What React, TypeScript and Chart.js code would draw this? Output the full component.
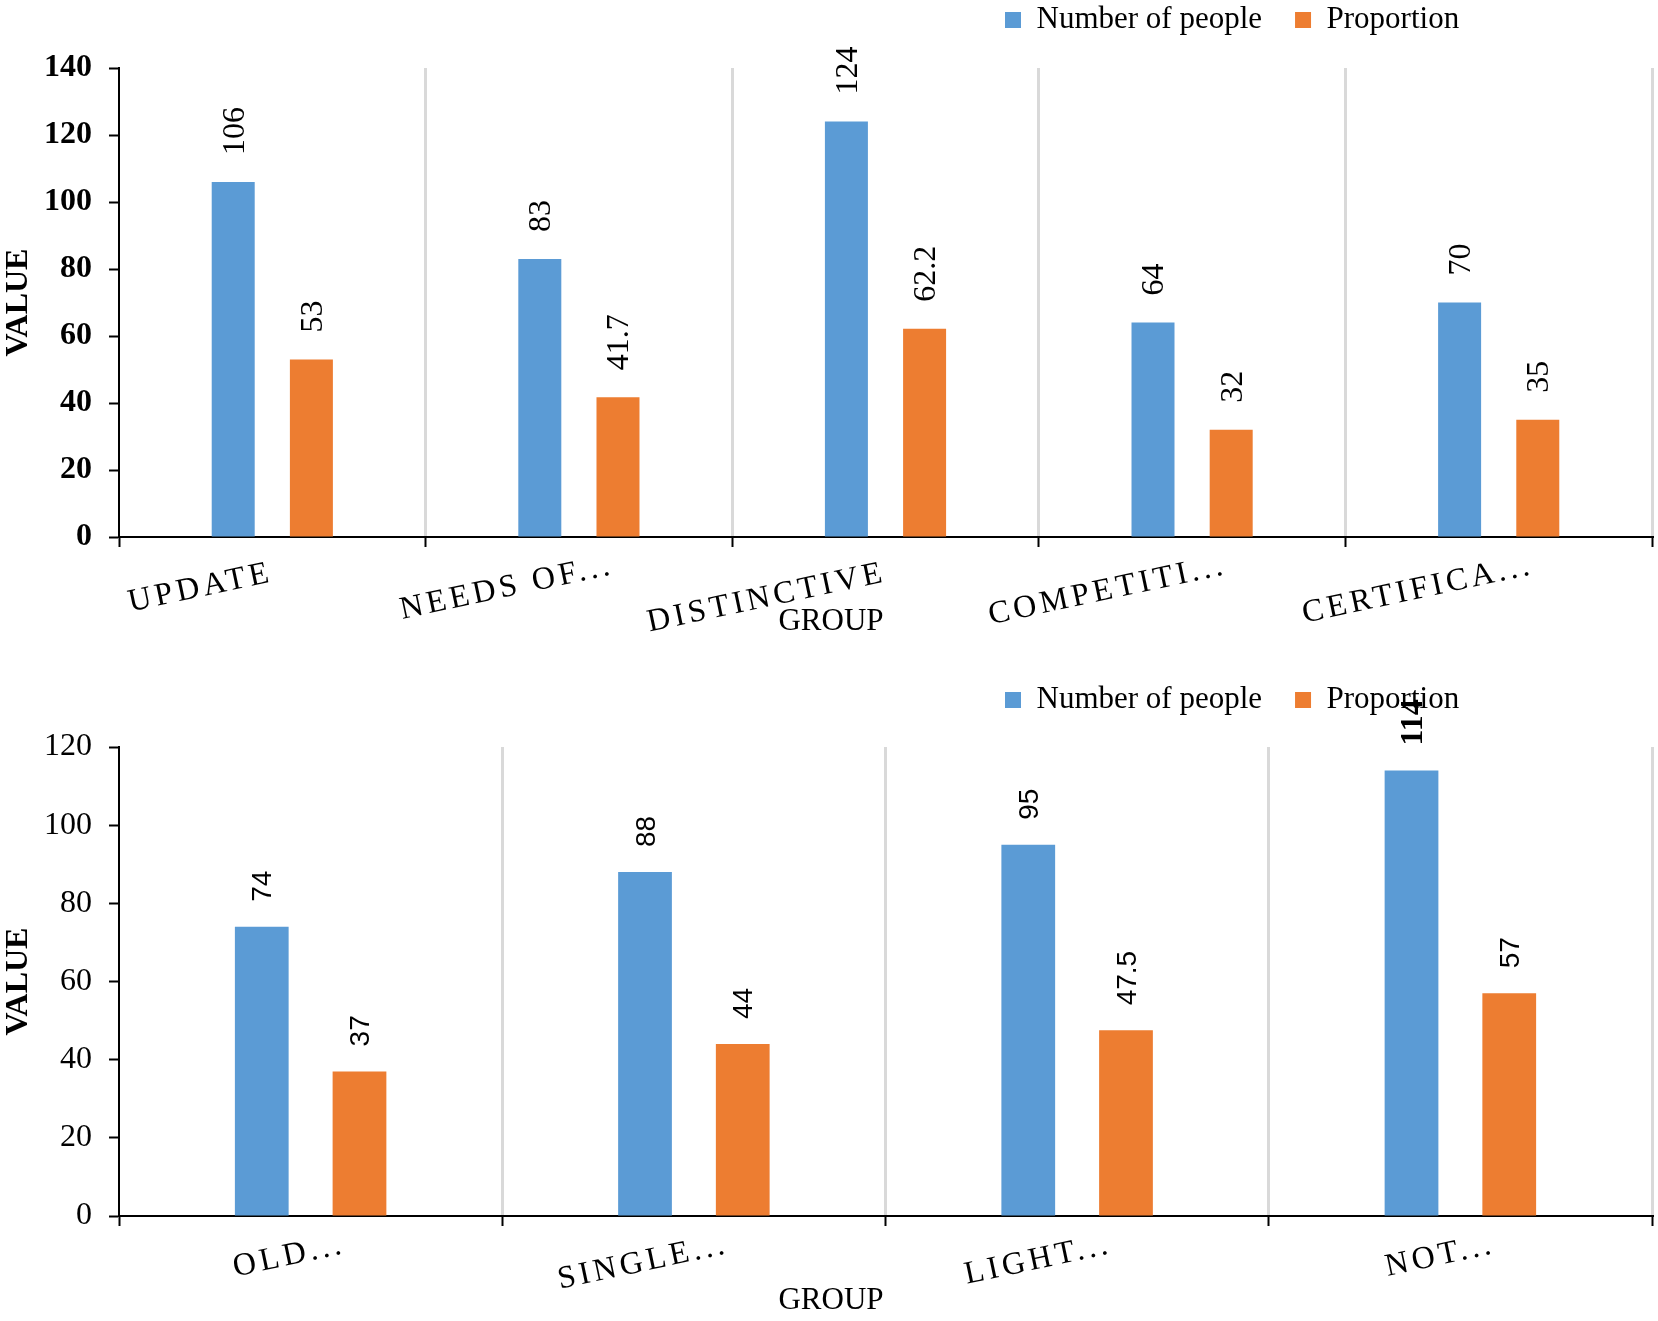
import React, { useEffect, useRef } from 'react';
import { Chart, registerables } from 'chart.js';

Chart.register(...registerables);

// ---- data ----
const seriesNames = ['Number of people', 'Proportion'];

const topCategories = ['UPDATE', 'NEEDS OF...', 'DISTINCTIVE', 'COMPETITI...', 'CERTIFICA...'];
const topPeople = [106, 83, 124, 64, 70];
const topProportion = [53, 41.7, 62.2, 32, 35];
const topMax = 140;

const bottomCategories = ['OLD...', 'SINGLE...', 'LIGHT...', 'NOT...'];
const bottomPeople = [74, 88, 95, 114];
const bottomProportion = [37, 44, 47.5, 57];
const bottomMax = 120;

const tickStep = 20;
const xTitle = 'GROUP';
const yTitle = 'VALUE';

// ---- style ----
const BLUE = '#5B9BD5';
const ORANGE = '#ED7D31';
const GRID = '#D9D9D9';
const SERIF = '"Liberation Serif", "Times New Roman", serif';
const SANS = '"Liberation Sans", Arial, sans-serif';

const tweakPlugin = {
  id: 'tweaks',
  beforeDraw(chart: any, _args: any, opts: any) {
    const lg = chart.legend;
    if (lg && opts.legendX !== undefined) {
      const w = lg.width;
      const h = lg.height;
      lg.left = opts.legendX;
      lg.right = opts.legendX + w;
      lg.top = opts.legendY;
      lg.bottom = opts.legendY + h;
    }
    const xs = chart.scales.x;
    if (xs && !xs.__patched) {
      xs.__patched = true;
      const ctx = chart.ctx;
      const dl = xs.drawLabels;
      xs.drawLabels = function (area: any) {
        ctx.save();
        ctx.letterSpacing = opts.letterSpacing || '0px';
        dl.call(this, area);
        ctx.restore();
      };
      const gli = xs.getLabelItems;
      xs.getLabelItems = function (area: any) {
        const items = gli.call(this, area);
        const s = opts.ellipsisShift || 0;
        return items.map((it: any) => {
          if (typeof it.label === 'string' && it.label.endsWith('...') && s) {
            const rot = it.options.rotation || 0;
            const t = it.options.translation;
            return {
              ...it,
              options: { ...it.options, translation: [t[0] + s * Math.cos(rot), t[1] + s * Math.sin(rot)] },
            };
          }
          return it;
        });
      };
      const dt = xs.drawTitle;
      xs.drawTitle = function () {
        ctx.save();
        ctx.translate(opts.titleDx || 0, opts.titleDy || 0);
        dt.call(this);
        ctx.restore();
      };
    }
  },
  afterDatasetsDraw(chart: any, _args: any, opts: any) {
    const ctx = chart.ctx;
    chart.data.datasets.forEach((ds: any, di: number) => {
      const meta = chart.getDatasetMeta(di);
      meta.data.forEach((el: any, i: number) => {
        const v = ds.data[i];
        const sp = opts.special && opts.special.dataset === di && opts.special.index === i;
        ctx.save();
        ctx.translate(el.x + (opts.dx || 0), el.y - opts.gap);
        ctx.rotate(-Math.PI / 2);
        ctx.font = sp ? opts.special.font : opts.font;
        ctx.fillStyle = '#000';
        ctx.textAlign = 'left';
        ctx.textBaseline = 'middle';
        ctx.fillText(String(v), 0, 0);
        ctx.restore();
      });
    });
  },
};

type PanelCfg = {
  categories: string[];
  people: number[];
  proportion: number[];
  max: number;
  width: number;
  height: number;
  padTop: number;
  xAxisHeight: number;
  titlePadBottom: number;
  tickBold: boolean;
  legendY: number;
  labelFont: string;
  labelGap: number;
  special?: any;
};

function makeConfig(c: PanelCfg): any {
  return {
    type: 'bar',
    data: {
      labels: c.categories,
      datasets: [
        {
          label: seriesNames[0],
          data: c.people,
          backgroundColor: BLUE,
          borderWidth: 0,
          categoryPercentage: 0.51,
          barPercentage: 0.55,
        },
        {
          label: seriesNames[1],
          data: c.proportion,
          backgroundColor: ORANGE,
          borderWidth: 0,
          categoryPercentage: 0.51,
          barPercentage: 0.55,
        },
      ],
    },
    plugins: [tweakPlugin],
    options: {
      responsive: false,
      animation: false,
      events: [],
      layout: { padding: { top: c.padTop, right: 6, left: 0, bottom: 0 } },
      plugins: {
        legend: {
          display: true,
          position: 'top',
          align: 'start',
          labels: {
            boxWidth: 16,
            boxHeight: 16,
            padding: 33,
            color: '#000',
            font: { family: SERIF, size: 31 },
          },
        },
        tooltip: { enabled: false },
        tweaks: {
          legendX: 972,
          legendY: c.legendY,
          letterSpacing: '4px',
          ellipsisShift: 35,
          titleDx: -54.5,
          titleDy: 1,
          gap: c.labelGap,
          font: c.labelFont,
          dx: 2,
          special: c.special,
        },
      },
      scales: {
        x: {
          offset: true,
          grid: {
            display: true,
            offset: true,
            drawOnChartArea: true,
            color: (ctx: any) => (ctx.index === 0 ? 'rgba(0,0,0,0)' : GRID),
            lineWidth: 3,
            tickColor: '#000',
            tickWidth: 2,
            tickLength: 10,
          },
          border: { display: true, color: '#000', width: 2 },
          ticks: {
            autoSkip: false,
            minRotation: 12,
            maxRotation: 12,
            padding: 7,
            color: '#000',
            font: { family: SERIF, size: 32 },
          },
          title: {
            display: true,
            text: xTitle,
            color: '#000',
            font: { family: SERIF, size: 31 },
            padding: { top: 0, bottom: c.titlePadBottom },
          },
          afterFit: (s: any) => {
            s.height = c.xAxisHeight;
          },
        },
        y: {
          min: 0,
          max: c.max,
          ticks: {
            stepSize: tickStep,
            padding: 17,
            color: '#000',
            font: { family: SERIF, size: 32, weight: c.tickBold ? 'bold' : 'normal' },
          },
          grid: {
            display: true,
            drawOnChartArea: false,
            tickLength: 10,
            tickColor: '#000',
            tickWidth: 2,
          },
          border: { display: true, color: '#000', width: 2 },
          title: {
            display: true,
            text: yTitle,
            color: '#000',
            font: { family: SERIF, size: 32, weight: 'bold' },
            padding: { top: 0, bottom: 0 },
          },
          afterFit: (s: any) => {
            s.width = 119;
          },
        },
      },
    },
  };
}

function Panel({ cfg }: { cfg: PanelCfg }) {
  const ref = useRef<HTMLCanvasElement | null>(null);
  useEffect(() => {
    if (!ref.current) return;
    const chart = new Chart(ref.current, makeConfig(cfg));
    return () => chart.destroy();
  }, []);
  return (
    <div style={{ width: cfg.width, height: cfg.height, position: 'relative' }}>
      <canvas ref={ref} width={cfg.width} height={cfg.height} style={{ display: 'block' }} />
    </div>
  );
}

const topCfg: PanelCfg = {
  categories: topCategories,
  people: topPeople,
  proportion: topProportion,
  max: topMax,
  width: 1658,
  height: 645,
  padTop: -6,
  xAxisHeight: 108,
  titlePadBottom: 6,
  tickBold: true,
  legendY: -28.5,
  labelFont: `normal 32px ${SERIF}`,
  labelGap: 27,
};

const bottomCfg: PanelCfg = {
  categories: bottomCategories,
  people: bottomPeople,
  proportion: bottomProportion,
  max: bottomMax,
  width: 1658,
  height: 676,
  padTop: 28,
  xAxisHeight: 105,
  titlePadBottom: 3,
  tickBold: false,
  legendY: 6.5,
  labelFont: `normal 28px ${SANS}`,
  labelGap: 25,
  special: { dataset: 0, index: 3, font: `bold 32px ${SERIF}` },
};

export default function App() {
  return (
    <div
      style={{
        position: 'absolute',
        left: 0,
        top: 0,
        width: 1658,
        height: 1321,
        background: '#fff',
        overflow: 'hidden',
      }}
    >
      <Panel cfg={topCfg} />
      <Panel cfg={bottomCfg} />
    </div>
  );
}
